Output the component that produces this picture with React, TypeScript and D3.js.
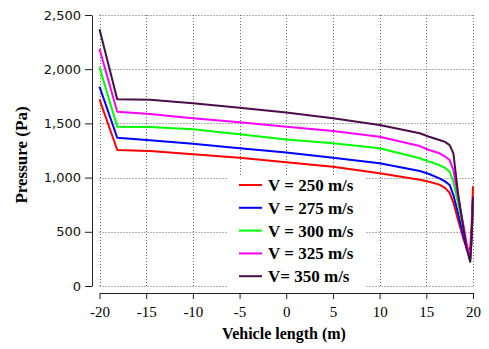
import React, {useEffect, useRef} from 'react';
import * as d3 from 'd3';

// vehicle length positions (m)
const lengths = [-20, -18.1, -14.6, -10, -5, 0, 5, 10, 14.3, 15.3, 16.4, 17.0, 17.5, 17.9, 18.4, 19.0, 19.3, 19.7, 19.85, 20];

// pressure (Pa) for each speed
const p250 = [1722, 1255, 1245, 1215, 1184, 1142, 1101, 1040, 980, 962, 935, 905, 860, 770, 610, 430, 350, 340, 560, 920];
const p275 = [1839, 1368, 1344, 1313, 1270, 1232, 1184, 1132, 1061, 1033, 993, 965, 932, 839, 670, 455, 360, 255, 450, 800];
const p300 = [2017, 1470, 1467, 1445, 1399, 1352, 1316, 1270, 1178, 1147, 1116, 1090, 1054, 962, 763, 517, 380, 224, 420, 780];
const p325 = [2186, 1608, 1587, 1547, 1510, 1468, 1430, 1377, 1291, 1255, 1224, 1195, 1162, 1070, 824, 547, 400, 240, 430, 790];
const p350 = [2368, 1722, 1719, 1685, 1645, 1600, 1547, 1485, 1409, 1377, 1347, 1330, 1300, 1224, 855, 517, 350, 224, 450, 824];

const seriesNames = ['V = 250 m/s', 'V = 275 m/s', 'V = 300 m/s', 'V = 325 m/s', 'V= 350 m/s'];
const seriesValues = [p250, p275, p300, p325, p350];
const colors = ['#ff0000', '#0000ff', '#00ff00', '#ff00ff', '#4a0d4a'];

const xTicks = [-20, -15, -10, -5, 0, 5, 10, 15, 20];
const yTicks = [0, 500, 1000, 1500, 2000, 2500];

const PressureChart = () => {
  const ref = useRef<SVGSVGElement>(null);

  useEffect(() => {
    const width = 489;
    const height = 349;
    const svg = d3.select(ref.current);
    svg.selectAll('*').remove();
    svg.attr('width', width).attr('height', height);

    const x = d3.scaleLinear().domain([-20, 20]).range([99.5, 473]);
    const y = d3.scaleLinear().domain([0, 2500]).range([286, 15]);

    // dotted grid
    const grid = svg.append('g')
      .attr('stroke', '#666')
      .attr('stroke-width', 1)
      .attr('stroke-dasharray', '1,2');
    grid.selectAll('.gx').data(xTicks).join('line')
      .attr('x1', d => Math.round(x(d)) + 0.5).attr('x2', d => Math.round(x(d)) + 0.5)
      .attr('y1', y(2500)).attr('y2', y(0));
    grid.selectAll('.gy').data(yTicks).join('line')
      .attr('y1', d => Math.round(y(d)) + 0.5).attr('y2', d => Math.round(y(d)) + 0.5)
      .attr('x1', x(-20)).attr('x2', x(20));

    // y axis
    const yAxis = svg.append('g').attr('transform', 'translate(92,0)');
    yAxis.call(d3.axisLeft(y).tickValues(d3.range(0, 2501, 100)).tickSize(4).tickFormat(() => ''));
    yAxis.call(d3.axisLeft(y).tickValues(yTicks).tickSize(7).tickSizeOuter(0).tickPadding(4).tickFormat(d3.format(',')));
    yAxis.selectAll('text')
      .attr('font-family', 'DejaVu Sans').attr('font-size', 13).attr('fill', '#111');
    yAxis.selectAll('line, path').attr('stroke', '#222');

    // x axis
    const xAxis = svg.append('g').attr('transform', 'translate(0,293)');
    xAxis.call(d3.axisBottom(x).tickValues(d3.range(-20, 21, 1)).tickSize(3).tickFormat(() => ''));
    xAxis.call(d3.axisBottom(x).tickValues(xTicks).tickSize(6).tickSizeOuter(0).tickPadding(7).tickFormat(d => String(d)));
    xAxis.selectAll('text')
      .attr('font-family', 'Liberation Serif').attr('font-size', 15).attr('fill', '#000');
    xAxis.selectAll('line, path').attr('stroke', '#222');

    // lines
    const line = d3.line<number>()
      .x((d, i) => x(lengths[i]))
      .y(d => y(d));

    seriesValues.forEach((vals, i) => {
      svg.append('path')
        .datum(vals)
        .attr('fill', 'none')
        .attr('stroke', colors[i])
        .attr('stroke-width', 2)
        .attr('stroke-linejoin', 'round')
        .attr('d', line);
    });

    // legend
    const legend = svg.append('g');
    legend.append('rect')
      .attr('x', 228).attr('y', 176).attr('width', 138).attr('height', 112)
      .attr('fill', '#fff');
    seriesNames.forEach((name, i) => {
      const cy = 185 + i * 22.8;
      legend.append('line')
        .attr('x1', 239).attr('x2', 262)
        .attr('y1', cy).attr('y2', cy)
        .attr('stroke', colors[i]).attr('stroke-width', 2);
      legend.append('text')
        .attr('x', 268).attr('y', cy + 6)
        .attr('font-family', 'Liberation Serif').attr('font-weight', 'bold')
        .attr('font-size', 17)
        .text(name);
    });

    // axis titles
    svg.append('text')
      .attr('x', 284).attr('y', 339)
      .attr('text-anchor', 'middle')
      .attr('font-family', 'Liberation Serif').attr('font-weight', 'bold').attr('font-size', 16)
      .text('Vehicle length (m)');
    svg.append('text')
      .attr('transform', 'translate(27,155) rotate(-90)')
      .attr('text-anchor', 'middle')
      .attr('font-family', 'Liberation Serif').attr('font-weight', 'bold').attr('font-size', 17)
      .text('Pressure (Pa)');
  }, []);

  return <svg ref={ref} style={{position: 'absolute', left: 0, top: 0}} />;
};

export default function App() {
  return <PressureChart />;
}
